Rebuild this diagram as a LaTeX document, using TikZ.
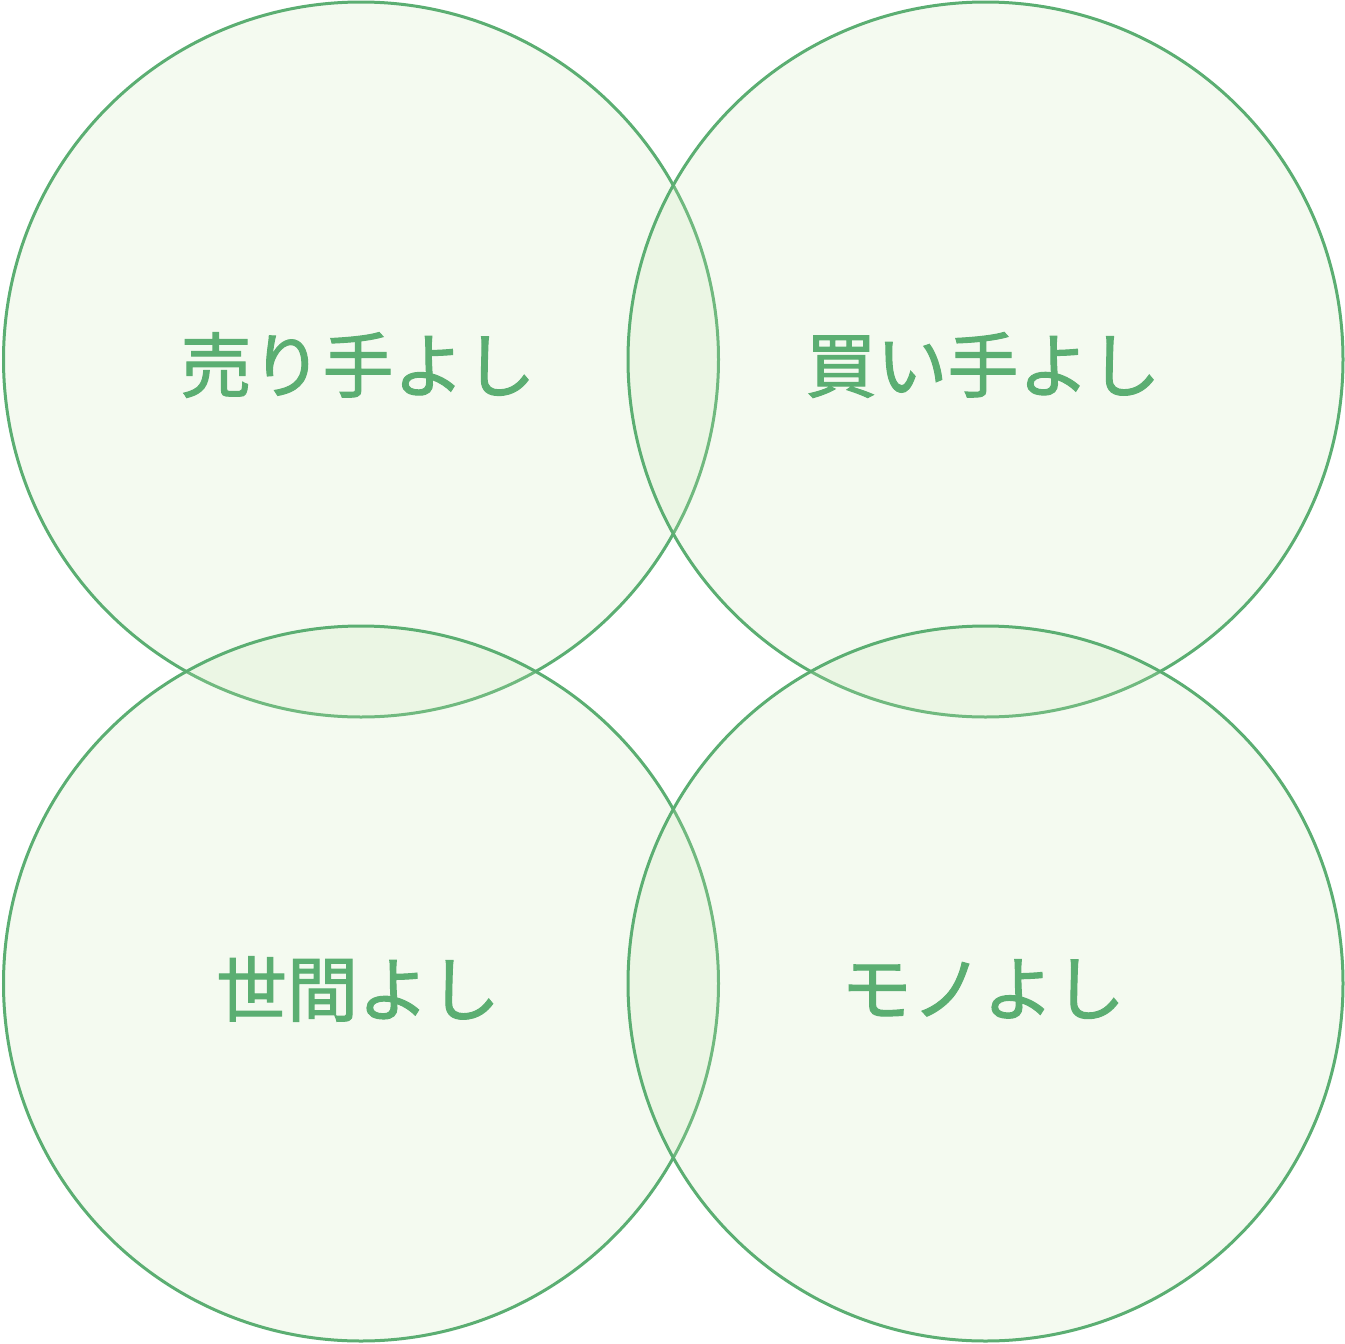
\documentclass[tikz,border=0pt]{standalone}
\usepackage{fontspec}
\newfontfamily\cjk[FakeBold=1.5]{Noto Sans CJK JP}
\definecolor{ring}{HTML}{5BAE72}
\definecolor{tint}{RGB}{200,230,180}
\begin{document}
\begin{tikzpicture}[x=1pt,y=-1pt,
  venn/.style={circle, draw=ring, line width=3pt, fill=tint, fill opacity=0.2, draw opacity=1, minimum size=715pt, inner sep=0pt},
  lbl/.style={text=ring, font=\cjk\fontsize{71}{80}\selectfont, inner sep=0pt}]
\useasboundingbox (0,0) rectangle (1345,1344);
\node[venn] (c1) at (361,359.5) {};
\node[venn] (c2) at (985.5,359.5) {};
\node[venn] (c3) at (361,983.5) {};
\node[venn] (c4) at (985.5,983.5) {};
\node[lbl] (t1) at (358,365) {売り手よし};
\node[lbl] (t2) at (983,365) {買い手よし};
\node[lbl] (t3) at (358,989) {世間よし};
\node[lbl] (t4) at (983,989) {モノよし};
\end{tikzpicture}
\end{document}
